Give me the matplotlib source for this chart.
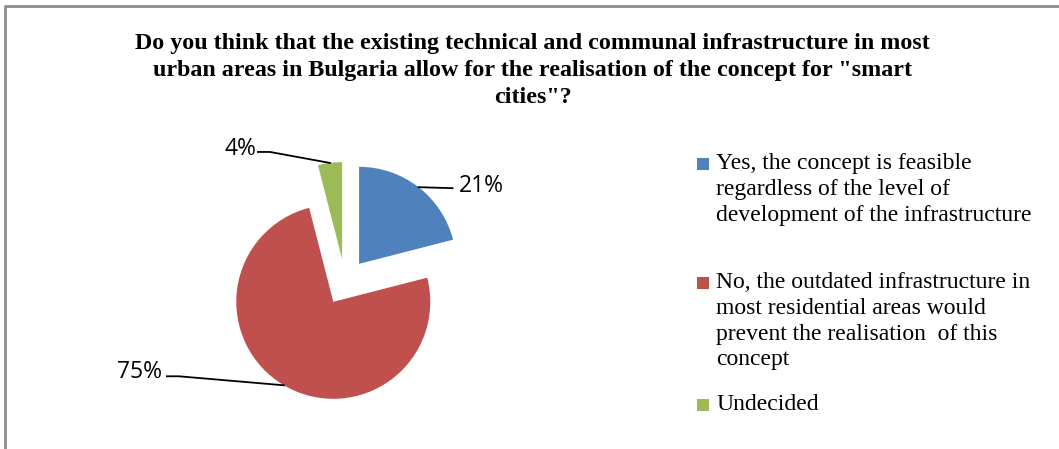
import matplotlib
matplotlib.use('Agg')
import matplotlib.pyplot as plt
from matplotlib.patches import Rectangle
import numpy as np

## Data
shares = [21, 75, 4]
share_labels = ['21%', '75%', '4%']
legend_labels = [
    'Yes, the concept is feasible\nregardless of the level of\ndevelopment of the infrastructure',
    'No, the outdated infrastructure in\nmost residential areas would\nprevent the realisation  of this\nconcept',
    'Undecided',
]
colors = ['#4F81BD', '#C0504D', '#9BBB59']
title = ('Do you think that the existing technical and communal infrastructure in most\n'
         'urban areas in Bulgaria allow for the realisation of the concept for "smart\n'
         'cities"?')

W, H = 1059, 449
fig = plt.figure(figsize=(W / 100, H / 100), dpi=100)
ax = fig.add_axes([0, 0, 1, 1])

## chart frame (left + top only visible)
ax.plot([4.5, 4.5, W], [0, H - 5.5, H - 5.5], color='#8c8c8c', lw=2, solid_capstyle='butt')

## pie (explode is in data units here, i.e. pixels)
cx, cy, r = 345, H - 282, 97
wedges, _ = ax.pie(shares, colors=colors, startangle=90, counterclock=False,
                   center=(cx, cy), radius=r, explode=[23] * 3,
                   wedgeprops=dict(linewidth=0), frame=True)
ax.set_xlim(0, W)
ax.set_ylim(0, H)
ax.set_aspect('equal')
ax.axis('off')

## data labels with leader lines
# (dx, dy) of the knee and text from the anchor point on the arc
offsets = [((34, -1), (40, 1), 'left'),
           ((-105, 9), (-122, 13), 'right'),
           ((-60, 11), (-74, 14), 'right')]
for w, lab, (knee, txt, ha) in zip(wedges, share_labels, offsets):
    mid = np.deg2rad((w.theta1 + w.theta2) / 2)
    wx, wy = w.center
    px = wx + r * np.cos(mid)
    py = wy + r * np.sin(mid)
    kx, ky = px + knee[0], py + knee[1]
    hx = kx + (-12 if ha == 'right' else 0)
    ax.plot([px, kx, hx], [py, ky, ky], color='black', lw=1.3)
    ax.text(px + txt[0], py + txt[1], lab, ha=ha, va='center',
            fontsize=16.5, family='Open Sans', color='black')

## title
fig.text(0.503, 1 - 33 / H, title, ha='center', va='top', fontsize=17.3,
         fontweight='bold', family='Liberation Serif', linespacing=1.36)

## legend drawn by hand (Excel-like spacing)
leg_y = [H - 164, H - 283, H - 405]
for col, lab, y in zip(colors, legend_labels, leg_y):
    ax.add_patch(Rectangle((697, y - 6), 12, 12, color=col, lw=0))
    ax.text(716, y + 11, lab, ha='left', va='top', fontsize=17,
            family='Liberation Serif', linespacing=1.3)

plt.savefig('out.png', dpi=100)
